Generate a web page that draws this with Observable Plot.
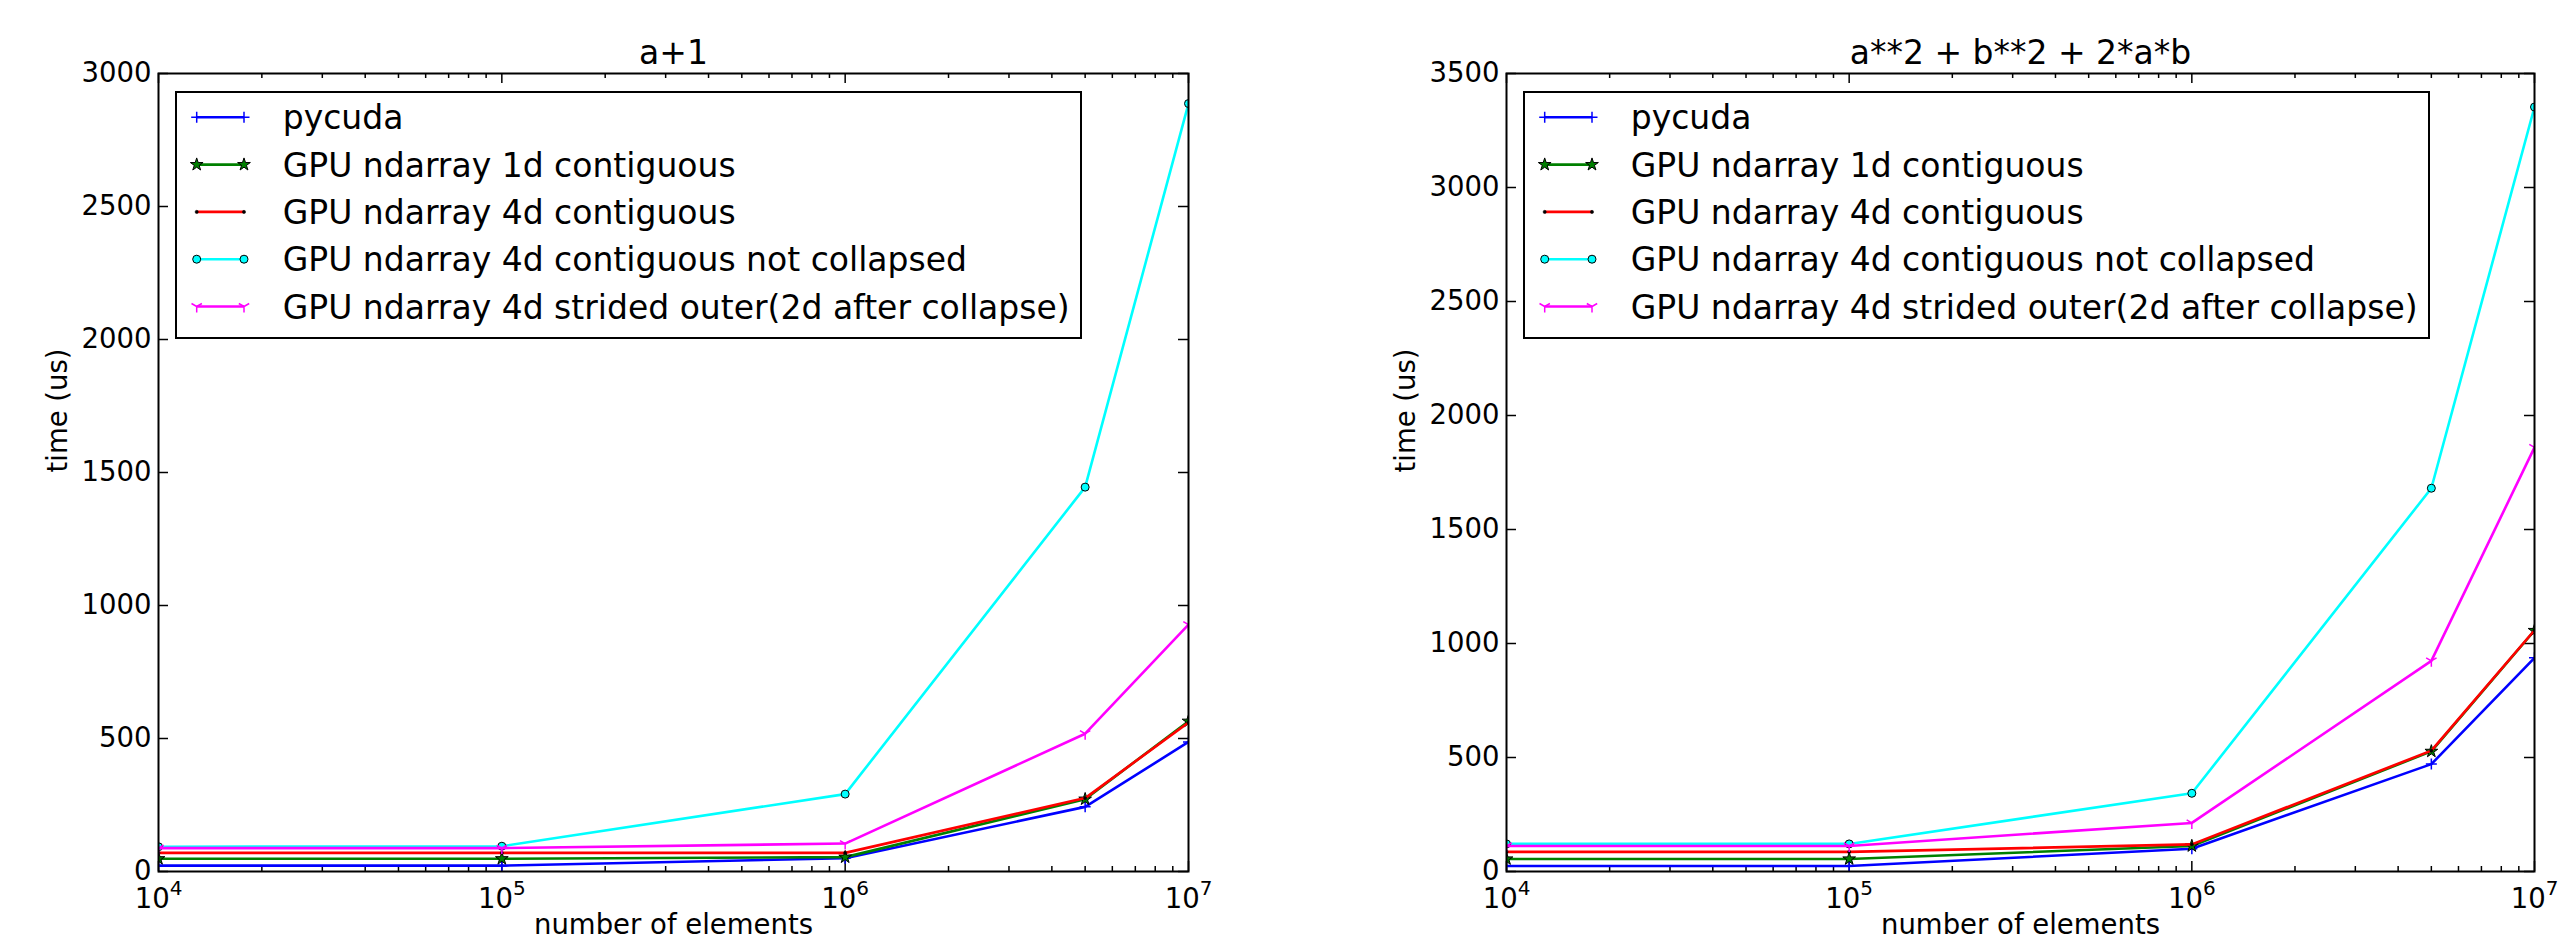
<!DOCTYPE html>
<html>
<head>
<meta charset="utf-8">
<script src="https://cdn.jsdelivr.net/npm/d3@7"></script>
<script src="https://cdn.jsdelivr.net/npm/@observablehq/plot@0.6"></script>
<style>
  body { margin: 0; background: #fff; }
  #wrap { position: relative; width: 2567px; height: 943px; overflow: hidden; background: #fff; font-family: "DejaVu Sans"; }
  .panel { position: absolute; top: 0; }
  .panel svg { max-width: none; }
  .legend { position: absolute; }
</style>
</head>
<body>
<div id="wrap"></div>
<script>
// ---------- data ----------
const sizes = [1e4, 1e5, 1e6, 5e6, 1e7];
const seriesNames = [
  "pycuda",
  "GPU ndarray 1d contiguous",
  "GPU ndarray 4d contiguous",
  "GPU ndarray 4d contiguous not collapsed",
  "GPU ndarray 4d strided outer(2d after collapse)"
];
const seriesColors = ["#0000ff", "#008000", "#ff0000", "#00ffff", "#ff00ff"];

// panel 1: a+1
const addPycuda        = [22, 22, 50, 243, 487];
const add1d            = [48, 48, 54, 272, 565];
const add4d            = [70, 70, 70, 276, 560];
const add4dNotCollapsed = [93, 95, 291, 1445, 2887];
const add4dStrided     = [88, 88, 105, 518, 928];

// panel 2: a**2 + b**2 + 2*a*b
const sqPycuda         = [24, 24, 100, 471, 937];
const sq1d             = [55, 55, 112, 527, 1057];
const sq4d             = [86, 86, 119, 530, 1058];
const sq4dNotCollapsed = [121, 121, 343, 1681, 3353];
const sq4dStrided      = [112, 112, 213, 924, 1860];

const titles = ["a+1", "a**2 + b**2 + 2*a*b"];
const yTicksA = [0, 500, 1000, 1500, 2000, 2500, 3000];
const yTicksB = [0, 500, 1000, 1500, 2000, 2500, 3000, 3500];
const xMajor = [1e4, 1e5, 1e6, 1e7];
const minorMult = [2, 3, 4, 5, 6, 7, 8, 9];
const xLabel = "number of elements";
const yLabel = "time (us)";

// ---------- layout ----------
const H = 943, MT = 73, MB = 72;

// custom stroke symbols (matplotlib '+' and tri_down '1')
const plusSym = { draw(ctx, size) { const r = Math.sqrt(size / Math.PI);
  ctx.moveTo(-r, 0); ctx.lineTo(r, 0); ctx.moveTo(0, -r); ctx.lineTo(0, r); } };
const triDownSym = { draw(ctx, size) { const r = Math.sqrt(size / Math.PI);
  ctx.moveTo(0, 0); ctx.lineTo(0, r);
  ctx.moveTo(0, 0); ctx.lineTo(-r * 0.866, -r * 0.5);
  ctx.moveTo(0, 0); ctx.lineTo(r * 0.866, -r * 0.5); } };

const markerStyles = [
  { symbol: plusSym, r: 5.5, fill: "none", stroke: seriesColors[0], strokeWidth: 1.5 },
  { symbol: "star", r: 4, fill: seriesColors[1], stroke: "black", strokeWidth: 1 },
  { symbol: "circle", r: 1.6, fill: "black", stroke: "black", strokeWidth: 0.5 },
  { symbol: "circle", r: 4, fill: seriesColors[3], stroke: "black", strokeWidth: 1 },
  { symbol: triDownSym, r: 6, fill: "none", stroke: seriesColors[4], strokeWidth: 1.5 }
];
const symbolObj = { star: d3.symbolStar, circle: d3.symbolCircle };

function panel({ title, yMax, yTicks, series, width, marginLeft, marginRight }) {
  const fh = H - MT - MB, fw = width - marginLeft - marginRight;
  const minor = xMajor.slice(0, -1).flatMap(m => minorMult.map(k => m * k));
  const tk = { stroke: "black", strokeWidth: 1.5 };
  const marks = [
    Plot.tickY(yTicks, { y: d => d, insetRight: fw - 10, ...tk }),
    Plot.tickY(yTicks, { y: d => d, insetLeft: fw - 10, ...tk }),
    Plot.tickX(xMajor, { x: d => d, insetTop: fh - 10, ...tk }),
    Plot.tickX(xMajor, { x: d => d, insetBottom: fh - 10, ...tk }),
    Plot.tickX(minor, { x: d => d, insetTop: fh - 5, ...tk }),
    Plot.tickX(minor, { x: d => d, insetBottom: fh - 5, ...tk }),
    Plot.axisY({ ticks: yTicks, tickSize: 0, tickPadding: 7, label: null, tickFormat: d => String(d) }),
    Plot.axisX({ ticks: xMajor, tickSize: 0, tickPadding: 17, label: null,
                 tickFormat: d => "10^" + Math.round(Math.log10(d)) })
  ];
  series.forEach((vals, i) => {
    const rows = sizes.map((s, j) => ({ size: s, time: vals[j] }));
    marks.push(Plot.line(rows, { x: "size", y: "time", stroke: seriesColors[i], strokeWidth: 2.6, clip: true }));
    marks.push(Plot.dot(rows, { x: "size", y: "time", ...markerStyles[i], clip: true }));
  });
  marks.push(Plot.frame({ stroke: "black", strokeWidth: 2 }));
  marks.push(Plot.text([title], { text: d => d, frameAnchor: "top", dy: -10, lineAnchor: "bottom", fontSize: 33 }));
  marks.push(Plot.text([xLabel], { text: d => d, frameAnchor: "bottom", dy: 43, lineAnchor: "top", fontSize: 27.5 }));
  marks.push(Plot.text([yLabel], { text: d => d, frameAnchor: "left", dx: -100, rotate: -90, fontSize: 27.5 }));
  const svg = Plot.plot({
    width, height: H, marginTop: MT, marginBottom: MB, marginLeft, marginRight,
    x: { type: "log", domain: [1e4, 1e7] },
    y: { domain: [0, yMax] },
    style: { fontFamily: "DejaVu Sans", fontSize: "27.5px", background: "white", overflow: "visible" },
    marks
  });
  // superscript exponents on log tick labels
  svg.querySelectorAll('g[aria-label="x-axis tick label"] text').forEach(t => {
    const m = t.textContent.match(/^10\^(\d+)$/);
    if (m) {
      t.textContent = "10";
      const ts = document.createElementNS("http://www.w3.org/2000/svg", "tspan");
      ts.setAttribute("dy", "-13");
      ts.setAttribute("font-size", "20");
      ts.textContent = m[1];
      t.appendChild(ts);
    }
  });
  return svg;
}

function legend(parent, left, top) {
  const lw = 907, lh = 248;
  const svg = d3.select(parent).append("svg")
    .attr("class", "legend").attr("width", lw).attr("height", lh)
    .style("left", left + "px").style("top", top + "px");
  svg.append("rect").attr("x", 1).attr("y", 1).attr("width", lw - 2).attr("height", lh - 2)
    .attr("fill", "white").attr("stroke", "black").attr("stroke-width", 2);
  seriesNames.forEach((name, i) => {
    const cy = 26.3 + i * 47.3;
    const ms = markerStyles[i];
    svg.append("line").attr("x1", 21.7).attr("x2", 69).attr("y1", cy).attr("y2", cy)
      .attr("stroke", seriesColors[i]).attr("stroke-width", 2.6);
    const sym = typeof ms.symbol === "string" ? symbolObj[ms.symbol] : ms.symbol;
    [21.7, 69].forEach(x => {
      svg.append("path").attr("d", d3.symbol(sym, ms.r * ms.r * Math.PI)())
        .attr("transform", `translate(${x},${cy})`)
        .attr("fill", ms.fill).attr("stroke", ms.stroke).attr("stroke-width", ms.strokeWidth);
    });
    svg.append("text").attr("x", 107.7).attr("y", cy + 12)
      .attr("font-family", "DejaVu Sans").attr("font-size", 33).text(name);
  });
}

const wrap = document.getElementById("wrap");
const configs = [
  { title: titles[0], yMax: 3000, yTicks: yTicksA,
    series: [addPycuda, add1d, add4d, add4dNotCollapsed, add4dStrided],
    width: 1283, marginLeft: 158, marginRight: 95, left: 0 },
  { title: titles[1], yMax: 3500, yTicks: yTicksB,
    series: [sqPycuda, sq1d, sq4d, sq4dNotCollapsed, sq4dStrided],
    width: 1284, marginLeft: 223, marginRight: 33, left: 1283 }
];
configs.forEach(c => {
  const div = document.createElement("div");
  div.className = "panel";
  div.style.left = c.left + "px";
  div.appendChild(panel(c));
  wrap.appendChild(div);
  legend(wrap, c.left + c.marginLeft + 17, 91);
});
</script>
</body>
</html>
